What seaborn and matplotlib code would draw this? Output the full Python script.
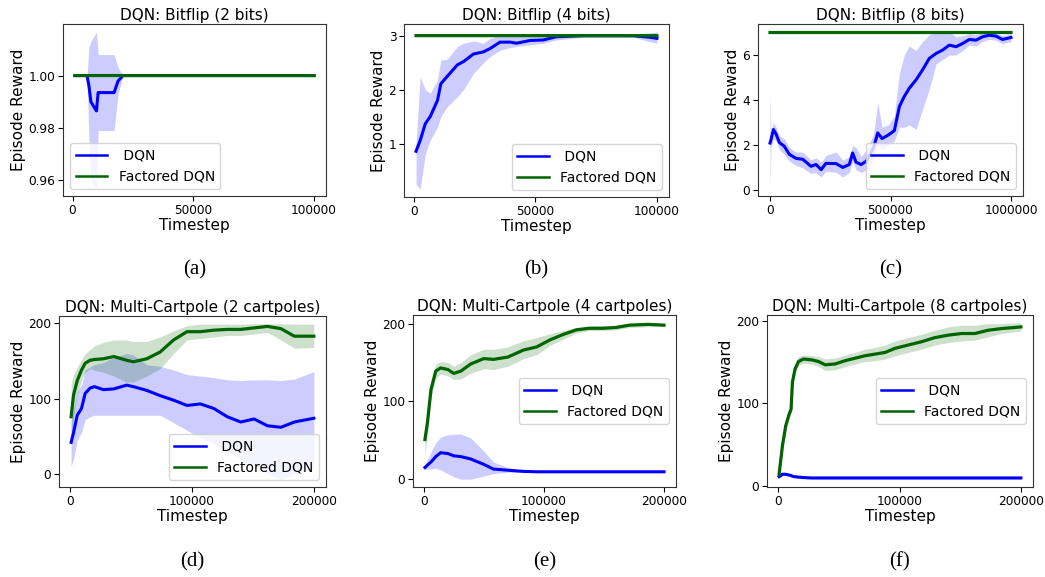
import numpy as np
import pandas as pd
import matplotlib
matplotlib.use("Agg")
import matplotlib.pyplot as plt
import seaborn as sns

# ---- data ----
# (a) Bitflip 2 bits
a_x = [1000, 6000, 6800, 7600, 9900, 10600, 17200, 18900, 20900, 100000]
a_dqn = [1.0, 1.0, 0.996, 0.990, 0.9865, 0.9935, 0.9935, 0.998, 1.0, 1.0]
a_lo = [1.0, 1.0, 0.975, 0.960, 0.957, 0.979, 0.979, 0.993, 1.0, 1.0]
a_hi = [1.0, 1.0, 1.011, 1.013, 1.0167, 1.008, 1.008, 1.003, 1.0, 1.0]
a_fac = [1.0] * len(a_x)

# (b) Bitflip 4 bits
b_x = [1000, 2700, 4800, 6800, 9800, 11200, 13700, 18000, 20500, 24600, 28700,
       31400, 35500, 39600, 42300, 47800, 53300, 58700, 69700, 90200, 97000, 100000]
b_dqn = [0.86, 1.06, 1.37, 1.50, 1.80, 2.11, 2.24, 2.46, 2.52, 2.66, 2.70,
         2.76, 2.88, 2.88, 2.86, 2.91, 2.92, 2.98, 3.0, 3.0, 2.97, 2.95]
b_lo = [0.25, 0.16, 0.81, 1.06, 1.31, 1.50, 1.68, 1.87, 2.00, 2.30, 2.50,
        2.61, 2.73, 2.78, 2.80, 2.83, 2.86, 2.92, 2.97, 2.97, 2.89, 2.86]
b_hi = [1.00, 2.24, 2.00, 1.93, 2.18, 2.55, 2.56, 2.80, 2.86, 2.90, 2.86,
        2.95, 3.00, 3.00, 3.00, 3.00, 3.00, 3.02, 3.02, 3.03, 3.05, 3.07]
b_fac = [3.0] * len(b_x)

# (c) Bitflip 8 bits
c_x = [0, 4000, 14000, 25000, 39000, 59000, 80000, 108000, 136000, 170000,
       191000, 212000, 232000, 274000, 302000, 329000, 343000, 357000, 378000,
       400000, 430000, 447000, 465000, 490000, 516000, 537000, 557000, 578000,
       606000, 633000, 661000, 689000, 716000, 744000, 772000, 799000, 827000,
       855000, 882000, 910000, 938000, 965000, 1000000]
c_dqn = [2.10, 2.25, 2.70, 2.50, 2.12, 1.96, 1.60, 1.42, 1.38, 1.07,
         1.15, 0.92, 1.20, 1.19, 1.02, 1.15, 1.66, 1.25, 1.15,
         1.30, 1.90, 2.55, 2.30, 2.45, 2.65, 3.72, 4.16, 4.53,
         4.90, 5.34, 5.85, 6.07, 6.22, 6.44, 6.37, 6.51, 6.69,
         6.66, 6.81, 6.88, 6.84, 6.69, 6.78]
c_lo = [0.10, 1.90, 2.30, 2.20, 1.80, 1.60, 1.30, 1.10, 1.00, 0.75,
        0.80, 0.60, 0.85, 0.80, 0.60, 0.80, 1.30, 0.90, 0.80,
        0.90, 1.40, 2.00, 1.80, 2.00, 2.20, 2.80, 2.80, 2.90,
        2.70, 3.60, 4.50, 5.60, 5.80, 6.00, 6.00, 6.20, 6.45,
        6.40, 6.60, 6.70, 6.65, 6.50, 6.60]
c_hi = [4.20, 2.60, 3.00, 2.80, 2.40, 2.30, 1.90, 1.70, 1.70, 1.35,
        1.45, 1.25, 1.55, 1.70, 1.35, 1.50, 2.00, 1.90, 1.50,
        1.80, 2.50, 3.90, 2.80, 2.90, 3.30, 5.20, 6.00, 6.40,
        6.20, 6.60, 6.90, 7.03, 7.03, 7.03, 6.80, 6.85, 6.95,
        6.90, 7.00, 7.00, 7.00, 6.85, 6.95]
c_fac = [7.0] * len(c_x)

# (d) Multi-Cartpole 2 cartpoles
d_x = [1000, 3000, 6000, 9500, 12500, 16500, 20000, 27500, 36000, 46500, 52000, 63000,
       74000, 85000, 96000, 107000, 118000, 129000, 140000, 151000, 162000, 173000, 184000, 200000]
d_fac = [76, 105, 124, 138, 147, 151, 152, 153, 156, 151, 149, 153,
         162, 178, 189, 189, 191, 192, 192, 194, 196, 193, 183, 183]
d_fac_lo = [40, 75, 105, 125, 135, 140, 138, 135, 130, 122, 122, 130,
            140, 160, 178, 180, 182, 184, 184, 186, 188, 178, 167, 168]
d_fac_hi = [120, 132, 142, 152, 160, 165, 170, 175, 178, 178, 176, 176,
            182, 190, 197, 199, 199, 199, 199, 199.5, 199.5, 199.5, 199, 199]
d_dqn = [42, 55, 78, 87, 107, 114, 116, 112, 113, 118, 116, 111,
         104, 98, 91, 93, 87, 76, 69, 73, 64, 62, 69, 74]
d_lo = [10, 20, 45, 55, 72, 76, 78, 78, 78, 78, 78, 78,
        78, 68, 58, 48, 40, 30, 20, 10, 0, -7, 0, 8]
d_hi = [70, 85, 110, 118, 138, 142, 145, 148, 155, 160, 158, 145,
        143, 138, 132, 130, 128, 125, 124, 125, 125, 124, 126, 136]

# (e) Multi-Cartpole 4 cartpoles
e_x = [1000, 3000, 6000, 10000, 14000, 20000, 25000, 31000, 39000, 50000, 58000, 70000,
       83000, 94000, 105000, 116000, 127000, 138000, 149000, 160000, 171000, 187000, 200000]
e_fac = [51, 72, 115, 139, 143, 141, 136, 139, 148, 155, 154, 157,
         166, 170, 179, 186, 192, 194, 194, 195, 198, 199, 198]
e_fac_lo = [30, 58, 104, 130, 135, 133, 128, 129, 136, 142, 141, 145,
            155, 160, 172, 180, 188, 191, 191, 192, 195, 196, 196]
e_fac_hi = [60, 84, 125, 148, 151, 150, 145, 150, 160, 167, 167, 170,
            178, 182, 187, 191, 195, 197, 197, 198, 200, 201, 200]
e_dqn = [15, 18, 22, 29, 34, 33, 30, 29, 26, 19, 13, 11.5,
         10, 9.5, 9.5, 9.5, 9.5, 9.5, 9.5, 9.5, 9.5, 9.5, 9.5]
e_lo = [12, 13, 13, 14, 12, 7, 3, 0, 0, 4, 7, 9,
        9, 9, 9, 9, 9, 9, 9, 9, 9, 9, 9]
e_hi = [18, 25, 35, 47, 54, 57, 58, 58, 53, 36, 22, 15,
        11, 10, 10, 10, 10, 10, 10, 10, 10, 10, 10]

# (f) Multi-Cartpole 8 cartpoles
f_x = [500, 3300, 6000, 8800, 10400, 11500, 13700, 16500, 20600, 27500, 33000, 38500,
       46700, 55000, 63200, 71400, 79700, 87900, 96200, 107000, 118000, 129000, 140000,
       151000, 162000, 173000, 184000, 200000]
f_fac = [14, 49, 73, 87, 93, 126, 142, 151, 154, 153, 151, 147,
         148, 152, 155, 158, 160, 162, 167, 171, 175, 180, 183,
         185, 185, 189, 191, 193]
f_fac_lo = [10, 44, 68, 82, 88, 120, 137, 146, 149, 148, 145, 140,
            141, 145, 148, 151, 152, 154, 158, 162, 166, 171, 174,
            176, 177, 181, 185, 188]
f_fac_hi = [18, 54, 78, 92, 98, 132, 148, 157, 159, 158, 157, 154,
            155, 159, 162, 166, 168, 171, 176, 180, 184, 189, 193,
            195, 195, 197, 197, 198]
f_dqn = [11, 14, 14, 13, 12.5, 11.5, 11, 10.5, 10, 9.5, 9.5, 9.5,
         9.5, 9.5, 9.5, 9.5, 9.5, 9.5, 9.5, 9.5, 9.5, 9.5, 9.5,
         9.5, 9.5, 9.5, 9.5, 9.5]
f_lo = [v - 1.5 for v in f_dqn]
f_hi = [v + 1.5 for v in f_dqn]

titles = ["DQN: Bitflip (2 bits)", "DQN: Bitflip (4 bits)", "DQN: Bitflip (8 bits)",
          "DQN: Multi-Cartpole (2 cartpoles)", "DQN: Multi-Cartpole (4 cartpoles)",
          "DQN: Multi-Cartpole (8 cartpoles)"]
captions = ["(a)", "(b)", "(c)", "(d)", "(e)", "(f)"]
a_yticks = [0.96, 0.98, 1.00]
b_yticks = [1, 2, 3]
c_yticks = [0, 2, 4, 6]
cart_yticks = [0, 100, 200]
bit_xticks = [0, 50000, 100000]
c_xticks = [0, 500000, 1000000]
cart_xticks = [0, 100000, 200000]

# ---- figure ----
fig = plt.figure(figsize=(10.45, 5.77), dpi=100)
boxes = [(63, 24, 326, 196), (404, 24, 669, 197), (758, 24, 1023, 196),
         (59, 316, 326, 487), (413, 315, 676, 487), (767, 315, 1033, 487)]
axes = []
for l, t, r, b in boxes:
    axes.append(fig.add_axes([l / 1045, 1 - b / 577, (r - l) / 1045, (b - t) / 577]))

BLUE = "blue"
GREEN = "darkgreen"


def draw(ax, x, dqn, lo, hi, fac, fac_lo=None, fac_hi=None):
    ax.fill_between(x, lo, hi, color=BLUE, alpha=0.2, linewidth=0)
    if fac_lo is not None:
        ax.fill_between(x, fac_lo, fac_hi, color=GREEN, alpha=0.2, linewidth=0)
    sns.lineplot(x=x, y=dqn, ax=ax, color=BLUE, lw=2.2, label=" DQN", snap=False)
    sns.lineplot(x=x, y=fac, ax=ax, color=GREEN, lw=2.3, label="Factored DQN", snap=False)


draw(axes[0], a_x, a_dqn, a_lo, a_hi, a_fac)
draw(axes[1], b_x, b_dqn, b_lo, b_hi, b_fac)
draw(axes[2], c_x, c_dqn, c_lo, c_hi, c_fac)
draw(axes[3], d_x, d_dqn, d_lo, d_hi, d_fac, d_fac_lo, d_fac_hi)
draw(axes[4], e_x, e_dqn, e_lo, e_hi, e_fac, e_fac_lo, e_fac_hi)
draw(axes[5], f_x, f_dqn, f_lo, f_hi, f_fac, f_fac_lo, f_fac_hi)

yticks = [a_yticks, b_yticks, c_yticks, cart_yticks, cart_yticks, cart_yticks]
xticks = [bit_xticks, bit_xticks, c_xticks, cart_xticks, cart_xticks, cart_xticks]
ylabfmt = ["{:.2f}", "{:d}", "{:d}", "{:d}", "{:d}", "{:d}"]
legend_loc = ["lower left", "lower right", "lower right", "lower right",
              "center right", "center right"]

for i, ax in enumerate(axes):
    ax.set_title(titles[i], fontsize=11, pad=3)
    ax.set_xlabel("Timestep", fontsize=11, labelpad=1)
    ax.set_ylabel("Episode Reward", fontsize=11, labelpad=2)
    ax.set_yticks(yticks[i])
    ax.set_yticklabels([ylabfmt[i].format(v) for v in yticks[i]])
    ax.set_xticks(xticks[i])
    ax.set_xticklabels([str(v) for v in xticks[i]])
    ax.tick_params(labelsize=8.7, length=3.5, width=0.8, pad=2)
    for s in ax.spines.values():
        s.set_color("#333333")
        s.set_linewidth(0.8)
    leg = ax.legend(loc=legend_loc[i], fontsize=10, handlelength=2.3,
                    framealpha=0.8, fancybox=True)
    for h in leg.get_lines():
        h.set_linewidth(1.8)
    cx = (boxes[i][0] + boxes[i][2]) / 2 / 1045
    cy = 1 - (270 if i < 3 else 562) / 577
    fig.text(cx, cy, captions[i], ha="center", va="center",
             fontsize=15, family="Liberation Serif")

fig.savefig("out.png", dpi=100)
